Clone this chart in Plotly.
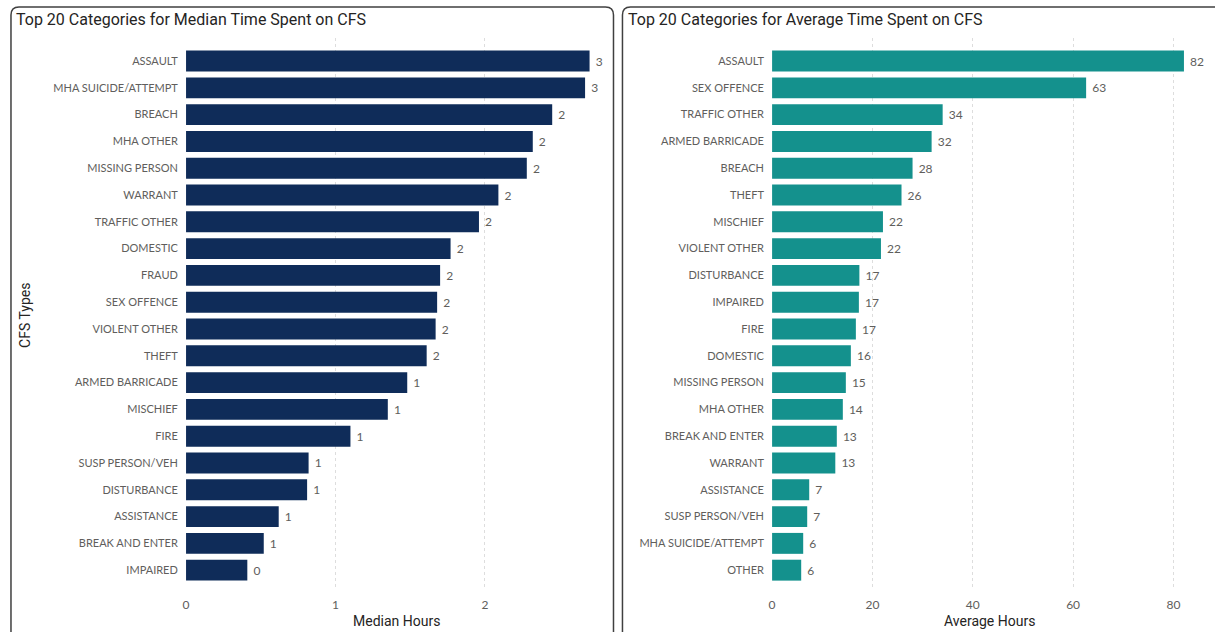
import plotly.graph_objects as go

# ---------------- data ----------------
median_categories = [
    "ASSAULT", "MHA SUICIDE/ATTEMPT", "BREACH", "MHA OTHER", "MISSING PERSON",
    "WARRANT", "TRAFFIC OTHER", "DOMESTIC", "FRAUD", "SEX OFFENCE",
    "VIOLENT OTHER", "THEFT", "ARMED BARRICADE", "MISCHIEF", "FIRE",
    "SUSP PERSON/VEH", "DISTURBANCE", "ASSISTANCE", "BREAK AND ENTER", "IMPAIRED",
]
median_hours = [2.70, 2.67, 2.45, 2.32, 2.28, 2.09, 1.96, 1.77, 1.70, 1.68,
                1.67, 1.61, 1.48, 1.35, 1.10, 0.82, 0.81, 0.62, 0.52, 0.41]

average_categories = [
    "ASSAULT", "SEX OFFENCE", "TRAFFIC OTHER", "ARMED BARRICADE", "BREACH",
    "THEFT", "MISCHIEF", "VIOLENT OTHER", "DISTURBANCE", "IMPAIRED",
    "FIRE", "DOMESTIC", "MISSING PERSON", "MHA OTHER", "BREAK AND ENTER",
    "WARRANT", "ASSISTANCE", "SUSP PERSON/VEH", "MHA SUICIDE/ATTEMPT", "OTHER",
]
average_hours = [82.1, 62.6, 34.0, 31.8, 28.0, 25.8, 22.1, 21.7, 17.4, 17.3,
                 16.7, 15.7, 14.7, 14.1, 12.9, 12.6, 7.4, 7.0, 6.2, 5.8]

median_ticks = [0, 1, 2]
average_ticks = [0, 20, 40, 60, 80]

# ---------------- styling ----------------
W, H = 1215, 632
NAVY = "#0F2C59"
TEAL = "#14918D"
LABEL = "#605E5C"
DARK = "#252423"
GRID = "#DDDDDD"
TITLE_FONT = "Roboto"
BODY_FONT = "Lato"


def px_x(p):
    return p / W


def px_y(p):
    return 1 - p / H


fig = go.Figure()

fig.add_trace(go.Bar(
    x=median_hours, y=median_categories, orientation="h",
    marker=dict(color=NAVY, line=dict(width=0)),
    texttemplate="\u00a0%{x:.0f}", textposition="outside", cliponaxis=False,
    textfont=dict(family=BODY_FONT, size=12, color=LABEL),
    xaxis="x", yaxis="y", showlegend=False,
))
fig.add_trace(go.Bar(
    x=average_hours, y=average_categories, orientation="h",
    marker=dict(color=TEAL, line=dict(width=0)),
    texttemplate="\u00a0%{x:.0f}", textposition="outside", cliponaxis=False,
    textfont=dict(family=BODY_FONT, size=12, color=LABEL),
    xaxis="x2", yaxis="y2", showlegend=False,
))

ytop, ybot = 38, 590
n = len(median_categories)
yrange = [n - 1 + 0.74, -0.86]

common_x = dict(
    showgrid=True, gridcolor=GRID, griddash="dot", gridwidth=1,
    zeroline=False, showline=False,
    ticks="outside", ticklen=4, tickcolor="rgba(0,0,0,0)",
    tickfont=dict(family=BODY_FONT, size=12, color=LABEL),
    fixedrange=True,
)
common_y = dict(
    type="category", range=yrange, showgrid=False, zeroline=False, showline=False,
    ticks="outside", ticklen=5, tickcolor="rgba(0,0,0,0)",
    tickfont=dict(family=BODY_FONT, size=11, color=LABEL),
    fixedrange=True,
)

fig.update_layout(
    width=W, height=H,
    margin=dict(l=0, r=0, t=0, b=0),
    paper_bgcolor="white", plot_bgcolor="white",
    bargap=0.22,
    xaxis=dict(domain=[px_x(183.5), px_x(601.5)], range=[0, 2.79],
               tickvals=median_ticks, anchor="y", **common_x),
    yaxis=dict(domain=[px_y(ybot), px_y(ytop)], anchor="x",
               categoryorder="array", categoryarray=median_categories, **common_y),
    xaxis2=dict(domain=[px_x(771), px_x(1207)], range=[0, 86.7],
                tickvals=average_ticks, anchor="y2", **common_x),
    yaxis2=dict(domain=[px_y(ybot), px_y(ytop)], anchor="x2",
                categoryorder="array", categoryarray=average_categories, **common_y),
)


def rounded_panel(x0, y0, x1, y1, r=8):
    rx, ry = r / W, r / H
    X0, X1 = px_x(x0), px_x(x1)
    Y0, Y1 = px_y(y0), px_y(y1)
    return (f"M {X0+rx},{Y0} L {X1-rx},{Y0} Q {X1},{Y0} {X1},{Y0-ry} "
            f"L {X1},{Y1+ry} Q {X1},{Y1} {X1-rx},{Y1} L {X0+rx},{Y1} "
            f"Q {X0},{Y1} {X0},{Y1+ry} L {X0},{Y0-ry} Q {X0},{Y0} {X0+rx},{Y0} Z")


fig.add_shape(type="path", xref="paper", yref="paper",
              path=rounded_panel(8, 7, 612, 645), line=dict(color="#404040", width=1.5))
fig.add_shape(type="path", xref="paper", yref="paper",
              path=rounded_panel(621, 7, 1228, 645), line=dict(color="#404040", width=1.5))

annotations = [
    dict(text="Top 20 Categories for Median Time Spent on CFS", x=px_x(11), y=px_y(19),
         xanchor="left", yanchor="middle", font=dict(family=TITLE_FONT, size=16, color=DARK)),
    dict(text="Top 20 Categories for Average Time Spent on CFS", x=px_x(625), y=px_y(19),
         xanchor="left", yanchor="middle", font=dict(family=TITLE_FONT, size=16, color=DARK)),
    dict(text="Median Hours", x=px_x(394), y=px_y(621), xanchor="center", yanchor="middle",
         font=dict(family=TITLE_FONT, size=14, color=DARK)),
    dict(text="Average Hours", x=px_x(989), y=px_y(621), xanchor="center", yanchor="middle",
         font=dict(family=TITLE_FONT, size=14, color=DARK)),
    dict(text="CFS Types", x=px_x(22), y=px_y(315), xanchor="center", yanchor="middle",
         textangle=-90, font=dict(family=TITLE_FONT, size=14, color=DARK)),
]
for a in annotations:
    a.update(xref="paper", yref="paper", showarrow=False)
fig.update_layout(annotations=annotations)

fig.write_html(
    "out.html",
    config={"displayModeBar": False},
    post_script="document.body.style.margin='0';document.body.style.overflow='hidden';",
)
